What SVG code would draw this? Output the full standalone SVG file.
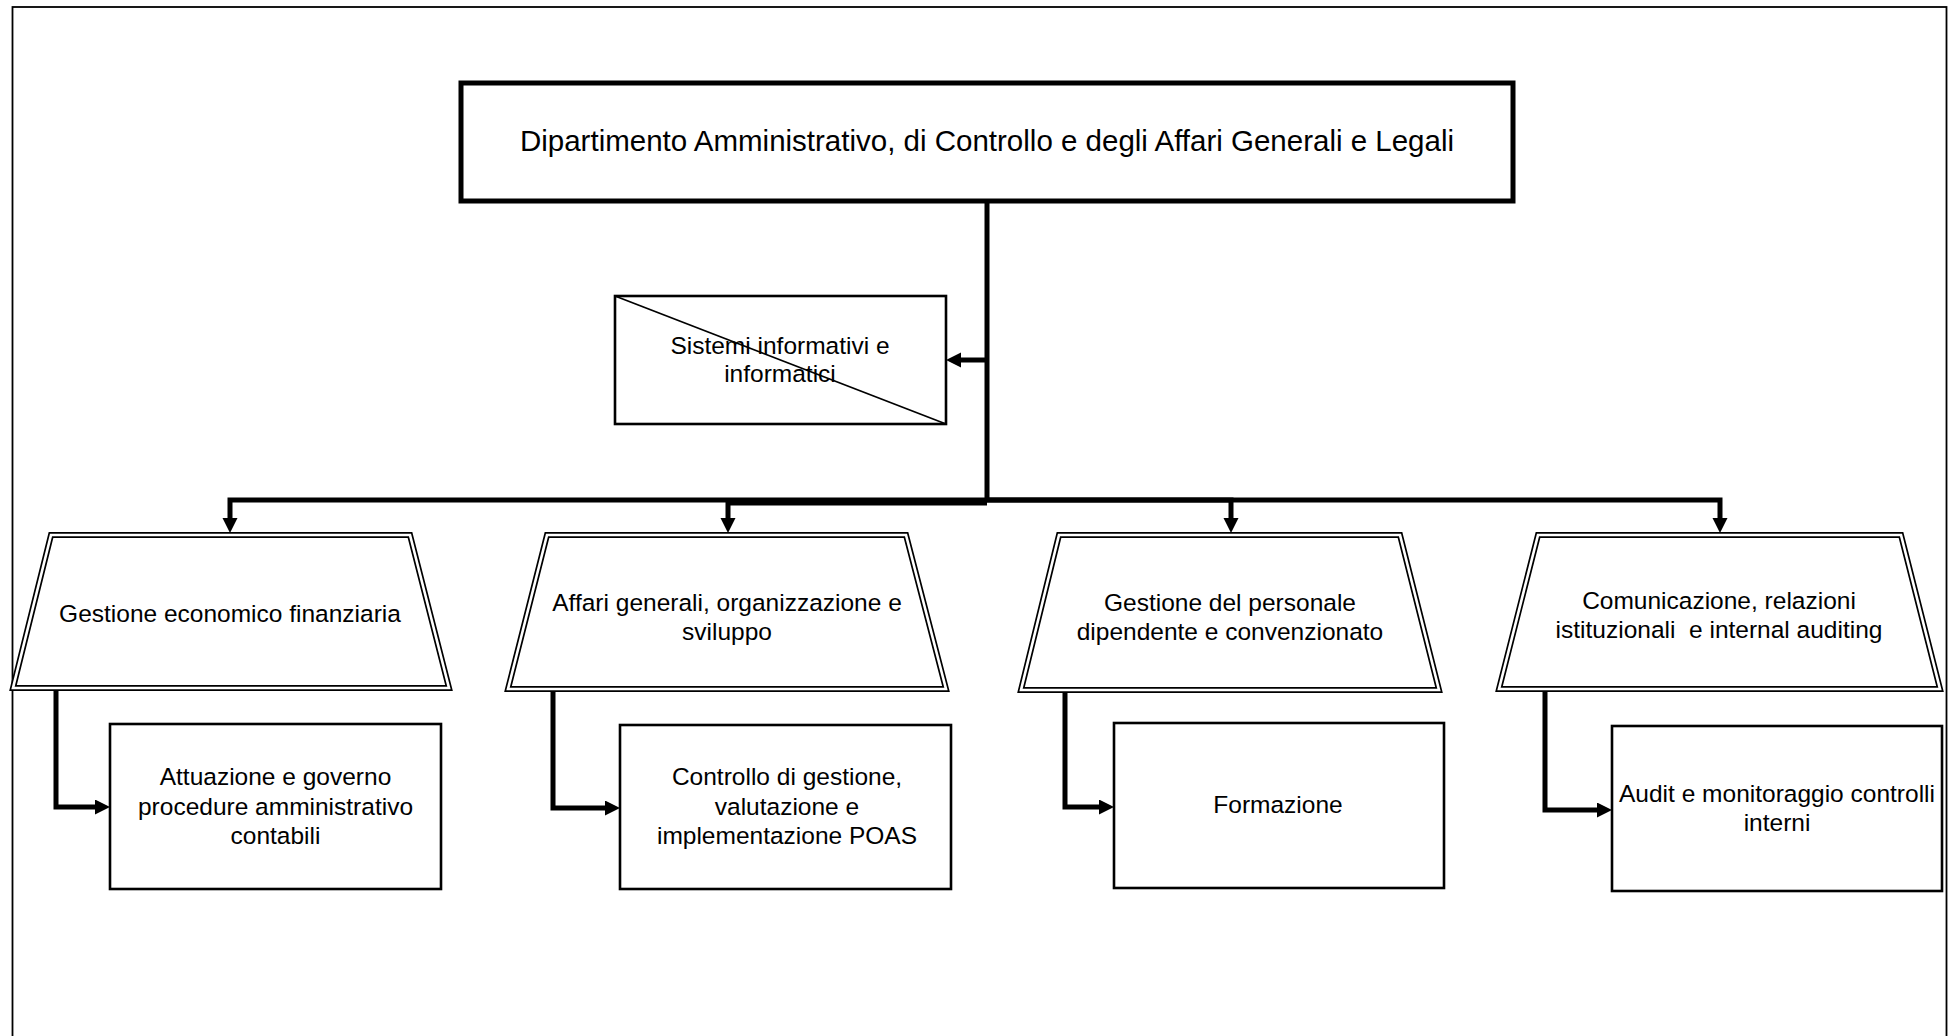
<svg xmlns="http://www.w3.org/2000/svg" width="1959" height="1036" viewBox="0 0 1959 1036">
<style>
text{font-family:"Liberation Sans",Arial,sans-serif;fill:#000;text-anchor:middle}
.t{font-size:24.5px}
.title{font-size:29.5px}
.box{fill:#fff;stroke:#000;stroke-width:2.6}
.trapO{fill:#fff;stroke:#000;stroke-width:6;stroke-linejoin:miter}
.trapI{fill:none;stroke:#fff;stroke-width:2.6;stroke-linejoin:miter}
.conn{fill:none;stroke:#000;stroke-width:5;stroke-linejoin:miter}
</style>
<defs>
<marker id="ah" markerUnits="userSpaceOnUse" markerWidth="17" markerHeight="17" refX="1" refY="7.5" orient="auto">
<path d="M0,0 L15,7.5 L0,15 z" fill="#000"/>
</marker>
</defs>
<rect x="0" y="0" width="1959" height="1036" fill="#fff"/>
<rect x="12.5" y="7" width="1934" height="1050" fill="none" stroke="#000" stroke-width="1.8"/>

<g id="connectors">
<path class="conn" d="M987,201 V502"/>
<path class="conn" d="M987,500 H230 V519" marker-end="url(#ah)"/>
<path class="conn" d="M987,503 H728 V519" marker-end="url(#ah)"/>
<path class="conn" d="M987,500 H1231 V519" marker-end="url(#ah)"/>
<path class="conn" d="M987,500 H1720 V519" marker-end="url(#ah)"/>
<path class="conn" d="M987,360 H960" marker-end="url(#ah)"/>
<path class="conn" d="M56,689 V807 H96" marker-end="url(#ah)"/>
<path class="conn" d="M553,690 V808 H606" marker-end="url(#ah)"/>
<path class="conn" d="M1065,691 V807 H1100" marker-end="url(#ah)"/>
<path class="conn" d="M1545,690 V810 H1598" marker-end="url(#ah)"/>
</g>

<g id="dipartimento">
<rect x="461" y="83" width="1052" height="118" fill="#fff" stroke="#000" stroke-width="5"/>
<text class="title" x="987" y="151">Dipartimento Amministrativo, di Controllo e degli Affari Generali e Legali</text>
</g>

<g id="sistemi">
<rect class="box" x="615" y="296" width="331" height="128" stroke-width="2.2"/>
<line x1="615" y1="296" x2="946" y2="424" stroke="#000" stroke-width="1.8"/>
<text class="t" x="780" y="354">Sistemi informativi e</text>
<text class="t" x="780" y="382">informatici</text>
</g>

<g id="gestione-economico">
<path class="trapO" d="M51,535 H410 L449,688 H13 Z"/>
<path class="trapI" d="M51,535 H410 L449,688 H13 Z"/>
<text class="t" x="230" y="622">Gestione economico finanziaria</text>
</g>

<g id="affari-generali">
<path class="trapO" d="M547,535 H906 L946,689 H508 Z"/>
<path class="trapI" d="M547,535 H906 L946,689 H508 Z"/>
<text class="t" x="727" y="611">Affari generali, organizzazione e</text>
<text class="t" x="727" y="640">sviluppo</text>
</g>

<g id="gestione-personale">
<path class="trapO" d="M1059,535 H1400 L1439,690 H1021 Z"/>
<path class="trapI" d="M1059,535 H1400 L1439,690 H1021 Z"/>
<text class="t" x="1230" y="611">Gestione del personale</text>
<text class="t" x="1230" y="640">dipendente e convenzionato</text>
</g>

<g id="comunicazione">
<path class="trapO" d="M1538,535 H1901 L1940,689 H1499 Z"/>
<path class="trapI" d="M1538,535 H1901 L1940,689 H1499 Z"/>
<text class="t" x="1719" y="609">Comunicazione, relazioni</text>
<text class="t" x="1719" y="638" xml:space="preserve">istituzionali  e internal auditing</text>
</g>

<g id="attuazione">
<rect class="box" x="110" y="724" width="331" height="165"/>
<text class="t" x="275.5" y="785">Attuazione e governo</text>
<text class="t" x="275.5" y="815">procedure amministrativo</text>
<text class="t" x="275.5" y="844">contabili</text>
</g>

<g id="controllo">
<rect class="box" x="620" y="725" width="331" height="164"/>
<text class="t" x="787" y="785">Controllo di gestione,</text>
<text class="t" x="787" y="815">valutazione e</text>
<text class="t" x="787" y="844">implementazione POAS</text>
</g>

<g id="formazione">
<rect class="box" x="1114" y="723" width="330" height="165"/>
<text class="t" x="1278" y="813">Formazione</text>
</g>

<g id="audit">
<rect class="box" x="1612" y="726" width="330" height="165"/>
<text class="t" x="1777" y="802">Audit e monitoraggio controlli</text>
<text class="t" x="1777" y="831">interni</text>
</g>
</svg>
